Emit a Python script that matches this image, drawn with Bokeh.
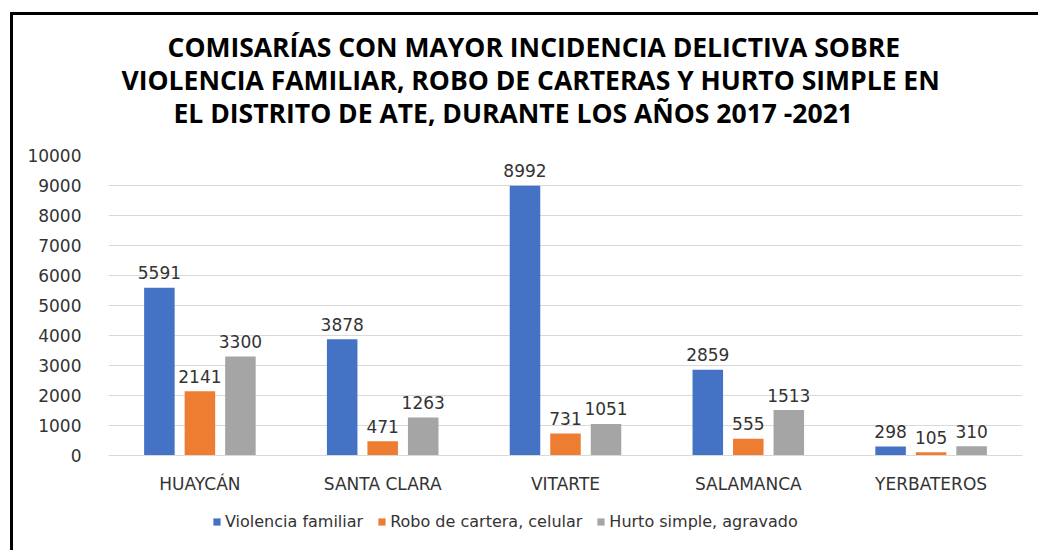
from bokeh.plotting import figure
from bokeh.layouts import column
from bokeh.models import (FactorRange, Range1d, Legend, LegendItem, Title,
                          SingleIntervalTicker, ColumnDataSource)
from bokeh.transform import dodge
from bokeh.core.properties import value
from bokeh.embed import file_html
from bokeh.resources import INLINE

categories = ["HUAYCÁN", "SANTA CLARA", "VITARTE", "SALAMANCA", "YERBATEROS"]
violencia = [5591, 3878, 8992, 2859, 298]
robo = [2141, 471, 731, 555, 105]
hurto = [3300, 1263, 1051, 1513, 310]
series_names = ["Violencia familiar", "Robo de cartera, celular", "Hurto simple, agravado"]
series_colors = ["#4472C4", "#ED7D31", "#A5A5A5"]
title_lines = [
    "COMISARÍAS CON MAYOR INCIDENCIA DELICTIVA SOBRE",
    "VIOLENCIA FAMILIAR, ROBO DE CARTERAS Y HURTO SIMPLE  EN",
    "EL DISTRITO DE ATE, DURANTE LOS AÑOS 2017 -2021",
]
title_offsets = [59, 13, 65]
y_max = 10000
y_step = 1000

FONT = "DejaVu Sans"
TXT = "#333333"

source = ColumnDataSource(dict(
    cat=categories,
    v=violencia, r=robo, h=hurto,
    v_s=[str(x) for x in violencia],
    r_s=[str(x) for x in robo],
    h_s=[str(x) for x in hurto],
))

p = figure(
    x_range=FactorRange(factors=categories),
    y_range=Range1d(0, y_max),
    frame_width=914, frame_height=300,
    output_backend="svg", toolbar_location=None,
    min_border_left=95, min_border_right=16,
    min_border_top=140, min_border_bottom=52,
)
p.outline_line_color = None
p.background_fill_color = "white"
p.border_fill_color = "white"

offsets = [-0.2216, 0.0, 0.2216]
cols = ["v", "r", "h"]
for off, col, color in zip(offsets, cols, series_colors):
    p.vbar(x=dodge("cat", off, range=p.x_range), top=col, width=0.167,
           source=source, fill_color=color, line_color=None)
    p.text(x=dodge("cat", off, range=p.x_range), y=col, text=col + "_s",
           source=source, text_align="center", text_baseline="alphabetic",
           y_offset=-15, text_font=value(FONT), text_font_size="17px",
           text_color=TXT)

# axes
p.xaxis.axis_line_color = "#D9D9D9"
p.xaxis.major_tick_line_color = None
p.xaxis.minor_tick_line_color = None
p.xaxis.major_label_standoff = 12
p.xaxis.major_label_text_font = FONT
p.xaxis.major_label_text_font_size = "17px"
p.xaxis.major_label_text_color = TXT

p.yaxis.ticker = SingleIntervalTicker(interval=y_step)
p.yaxis.axis_line_color = None
p.yaxis.major_tick_line_color = None
p.yaxis.minor_tick_line_color = None
p.yaxis.major_label_standoff = 21
p.yaxis.major_label_text_font = FONT
p.yaxis.major_label_text_font_size = "17px"
p.yaxis.major_label_text_color = TXT

p.xgrid.grid_line_color = None
p.ygrid.grid_line_color = "#D9D9D9"
p.ygrid.ticker = SingleIntervalTicker(interval=y_step)

# spacer between plot and title block
p.add_layout(Title(text=" ", text_font_size="22px", standoff=0), "above")
# title lines (added from the plot outward)
for line, off in reversed(list(zip(title_lines, title_offsets))):
    t = Title(text=line, align="left", offset=off,
              text_font="Open Sans", text_font_size="26.5px", text_font_style="bold",
              text_color="#000000", standoff=-5)
    p.add_layout(t, "above")

# legend strip (separate small figure directly below the chart)
leg = figure(width=1025, height=43, x_range=Range1d(0, 1), y_range=Range1d(0, 1),
             output_backend="svg", toolbar_location=None,
             x_axis_type=None, y_axis_type=None,
             min_border=0, min_border_left=0, min_border_right=0,
             min_border_top=0, min_border_bottom=0)
leg.outline_line_color = None
leg.xgrid.grid_line_color = None
leg.ygrid.grid_line_color = None
leg.border_fill_color = "white"
# zero-height stand-in bars so that the legend swatches get their colours
leg_src = ColumnDataSource(dict(x=[0.5], top=[0], bottom=[0]))
leg_renderers = [leg.vbar(x="x", top="top", bottom="bottom", width=0.01, source=leg_src,
                          fill_color=c, line_color=None)
                 for c in series_colors]
legend = Legend(
    items=[LegendItem(label=n, renderers=[r], index=0) for n, r in zip(series_names, leg_renderers)],
    orientation="horizontal", location=(104, 19),
    glyph_width=9, glyph_height=9, label_standoff=4, spacing=14,
    border_line_color=None, background_fill_alpha=0,
    label_text_font=FONT, label_text_font_size="16px", label_text_color=TXT,
    margin=0, padding=3,
)
leg.add_layout(legend)

layout = column(p, leg, spacing=0)
layout.styles = {"border-left": "3px solid black", "border-top": "3px solid black",
                 "margin-left": "10px", "margin-top": "12px"}

open("out.html", "w").write(file_html(layout, INLINE))
